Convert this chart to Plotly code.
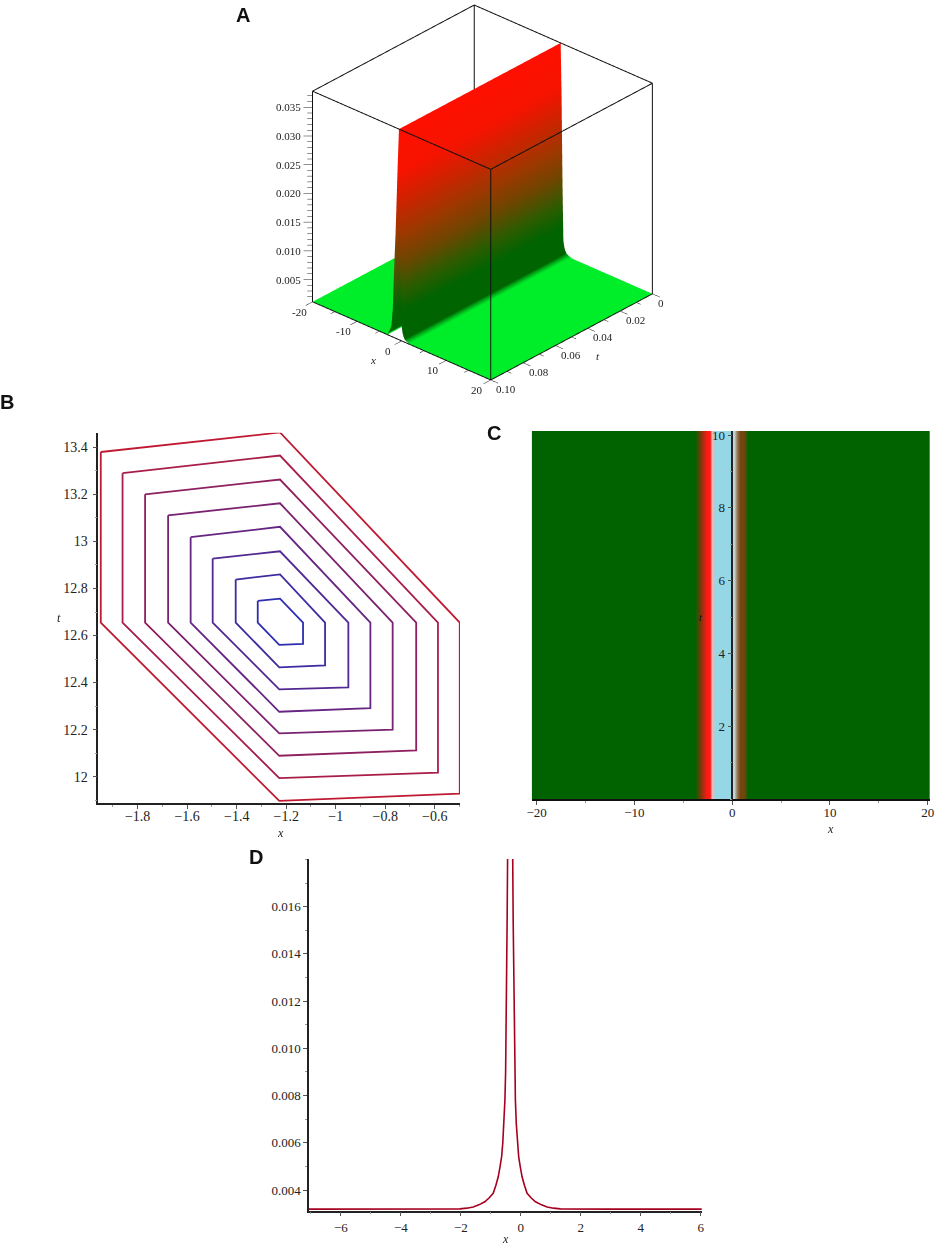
import plotly.graph_objects as go

W, H = 941, 1245
SERIF = "Liberation Serif"
INK = "#222222"

# Panel A: ridge cross-section, the same at every t
a_x = [-20, -5, -3.2, -3.0, -2.6, -2.3, -2.0, -1.6, -1.36, -0.9, -0.6, -0.4, -0.2, 0, 0.2, 0.4, 0.7, 1.2, 1.6, 2.0, 5, 20]
a_height = [0, 0, 0, 0.012, 0.03, 0.05, 0.13, 0.375, 0.5, 0.82, 1.0, 0.75, 0.35, 0.07, 0.04, 0.025, 0.012, 0.006, 0.003, 0, 0, 0]
a_t = [0, 0.05, 0.1]
a_z_min = 0.00112
a_z_max = 0.0378
a_z_major = [0.005, 0.010, 0.015, 0.020, 0.025, 0.030, 0.035]
a_z_minor = [0.002, 0.003, 0.004, 0.006, 0.007, 0.008, 0.009, 0.011, 0.012, 0.013, 0.014, 0.016, 0.017, 0.018, 0.019,
             0.021, 0.022, 0.023, 0.024, 0.026, 0.027, 0.028, 0.029, 0.031, 0.032, 0.033, 0.034, 0.036, 0.037]
a_x_major = [-20, -10, 0, 10, 20]
a_x_minor = [-15, -5, 5, 15]
a_t_major = [0, 0.02, 0.04, 0.06, 0.08, 0.10]
a_t_minor = [0.01, 0.03, 0.05, 0.07, 0.09]
a_colorscale = [
    [0, "rgb(0,238,42)"], [0.003, "rgb(0,190,30)"], [0.012, "rgb(0,100,0)"], [0.13, "rgb(0,100,0)"],
    [0.24, "rgb(45,92,0)"], [0.37, "rgb(110,70,0)"], [0.51, "rgb(160,55,0)"], [0.65, "rgb(205,35,0)"],
    [0.79, "rgb(245,20,0)"], [1, "rgb(255,15,0)"],
]

# Panel B: eight closed contours, outermost first
b_x = [
    [-1.949, -1.225, -0.499, -0.499, -1.228, -1.949, -1.949],
    [-1.861, -1.225, -0.587, -0.587, -1.228, -1.861, -1.861],
    [-1.770, -1.225, -0.675, -0.675, -1.228, -1.770, -1.770],
    [-1.677, -1.225, -0.770, -0.770, -1.228, -1.677, -1.677],
    [-1.586, -1.225, -0.860, -0.860, -1.228, -1.586, -1.586],
    [-1.497, -1.225, -0.949, -0.949, -1.228, -1.497, -1.497],
    [-1.404, -1.225, -1.043, -1.043, -1.228, -1.404, -1.404],
    [-1.315, -1.225, -1.132, -1.132, -1.228, -1.315, -1.315],
]
b_y = [
    [13.380, 13.463, 12.655, 11.928, 11.897, 12.655, 13.380],
    [13.290, 13.365, 12.655, 12.017, 11.994, 12.655, 13.290],
    [13.200, 13.263, 12.655, 12.112, 12.089, 12.655, 13.200],
    [13.111, 13.162, 12.655, 12.200, 12.184, 12.655, 13.111],
    [13.018, 13.062, 12.655, 12.291, 12.276, 12.655, 13.018],
    [12.927, 12.958, 12.655, 12.380, 12.371, 12.655, 12.927],
    [12.838, 12.860, 12.655, 12.473, 12.465, 12.655, 12.838],
    [12.747, 12.757, 12.655, 12.564, 12.560, 12.655, 12.747],
]
b_colors = ["#C01A32", "#A81E48", "#8F2060", "#7A2270", "#662582", "#522892", "#3E2BA0", "#2E2EB0"]
b_xticks = [-1.8, -1.6, -1.4, -1.2, -1, -0.8, -0.6]
b_yticks = [12, 12.2, 12.4, 12.6, 12.8, 13, 13.2, 13.4]

# Panel C: colour bands across x
c_x = [-20.5, -3.82, -3.3, -2.63, -2.29, -2.05, -1.77, -0.24, 0.2, 0.44, 0.72, 1.13, 1.54, 20.23]
c_band = [0, 1, 2, 3, 4, 5, 6, 7, 8, 9, 10, 11, 12, 13]
c_colors = ["#006300", "#006300", "#6E3C0A", "#FF1A14", "#FF1A14", "#FFB4B4", "#96D7E6", "#96D7E6",
            "#C8D8DC", "#96785A", "#73460F", "#73460F", "#006300", "#006300"]
c_t = [0, 10.11]
c_xticks = [-20, -10, 0, 10, 20]
c_yticks = [2, 4, 6, 8, 10]

# Panel D: clipped peak on a flat baseline
d_x = [-7.06, -3, -2.03, -1.8, -1.585, -1.4, -1.2, -1.05, -0.92, -0.83, -0.75, -0.69, -0.64, -0.6, -0.56, -0.53,
       -0.506, -0.485, -0.47, -0.455, -0.44,
       -0.27, -0.255, -0.24, -0.225, -0.205, -0.18, -0.15, -0.11, -0.07, -0.02, 0.04, 0.12, 0.21, 0.34, 0.49,
       0.69, 0.875, 1.09, 1.32, 3, 6.09]
d_y = [0.00319, 0.00319, 0.00320, 0.00323, 0.00328, 0.00337, 0.0035, 0.00367, 0.00386, 0.0042, 0.00457, 0.0050,
       0.0054, 0.0060, 0.0068, 0.0078, 0.0090, 0.0110, 0.0132, 0.0155, 0.0181,
       0.0181, 0.0155, 0.0132, 0.0110, 0.0090, 0.0078, 0.0068, 0.0060, 0.0054, 0.0050, 0.00457, 0.0042, 0.00386,
       0.00367, 0.0035, 0.00337, 0.00328, 0.00323, 0.00320, 0.00319, 0.00319]
d_xticks = [-6, -4, -2, 0, 2, 4, 6]
d_yticks = [0.004, 0.006, 0.008, 0.010, 0.012, 0.014, 0.016]


def px_x(a, b):
    return [a / W, b / W]


def px_y(top, bottom):
    return [1 - bottom / H, 1 - top / H]


def segments(pairs):
    xs, ys, zs = [], [], []
    for p, q in pairs:
        xs += [p[0], q[0], None]
        ys += [p[1], q[1], None]
        zs += [p[2], q[2], None]
    return xs, ys, zs


fig = go.Figure()

# ---- panel A (scene x is t, scene y is x)
a_z = [[a_z_min + (a_z_max - a_z_min) * h] * len(a_t) for h in a_height]
a_c = [[h] * len(a_t) for h in a_height]
fig.add_trace(go.Surface(
    x=a_t, y=a_x, z=a_z, surfacecolor=a_c, cmin=0, cmax=1, colorscale=a_colorscale, showscale=False,
    lighting=dict(ambient=1, diffuse=0, specular=0, fresnel=0, roughness=1), hoverinfo="skip",
))

t0, t1, x0, x1, z0, z1 = 0, 0.1, -20, 20, a_z_min, a_z_max
edges = [
    ((t0, x0, z1), (t0, x1, z1)), ((t1, x0, z1), (t1, x1, z1)),
    ((t0, x0, z1), (t1, x0, z1)), ((t0, x1, z1), (t1, x1, z1)),
    ((t0, x0, z0), (t0, x0, z1)), ((t1, x0, z0), (t1, x0, z1)),
    ((t0, x1, z0), (t0, x1, z1)), ((t1, x1, z0), (t1, x1, z1)),
    ((t1, x0, z0), (t1, x1, z0)), ((t0, x1, z0), (t1, x1, z0)),
]
ticks = []
for v in a_x_major:
    ticks.append(((t1, v, z0), (t1 + 0.0043, v, z0)))
for v in a_x_minor:
    ticks.append(((t1, v, z0), (t1 + 0.0026, v, z0)))
for v in a_t_major:
    ticks.append(((v, x1, z0), (v, x1 + 1.66, z0)))
for v in a_t_minor:
    ticks.append(((v, x1, z0), (v, x1 + 1.0, z0)))
for v in a_z_major:
    ticks.append(((t1, x0, v), (t1 + 0.00253, x0 - 1.10, v)))
for v in a_z_minor:
    ticks.append(((t1, x0, v), (t1 + 0.00150, x0 - 0.65, v)))

ex, ey, ez = segments(edges)
fig.add_trace(go.Scatter3d(x=ex, y=ey, z=ez, mode="lines", line=dict(color="#111111", width=2),
                           showlegend=False, hoverinfo="skip"))
kx, ky, kz = segments(ticks)
fig.add_trace(go.Scatter3d(x=kx, y=ky, z=kz, mode="lines", line=dict(color=INK, width=1),
                           showlegend=False, hoverinfo="skip"))

font_a = dict(family=SERIF, size=11, color=INK)
scene_notes = []
for v in a_z_major:
    scene_notes.append(dict(x=t1, y=x0, z=v, text="%.3f" % v, showarrow=False, xanchor="right",
                            xshift=-9, font=font_a))
for v in a_x_major:
    scene_notes.append(dict(x=t1, y=v, z=z0, text=str(v), showarrow=False, xshift=-13, yshift=-10, font=font_a))
for v in a_t_major:
    label = "0" if v == 0 else "%.2f" % v
    scene_notes.append(dict(x=v, y=x1, z=z0, text=label, showarrow=False, xanchor="left",
                            xshift=4, yshift=-9, font=font_a))
scene_notes.append(dict(x=t1, y=-3, z=z0, text="<i>x</i>", showarrow=False, xshift=-15, yshift=-25, font=font_a))
scene_notes.append(dict(x=0.05, y=x1, z=z0, text="<i>t</i>", showarrow=False, xshift=27, yshift=-19, font=font_a))

# ---- panel B
for xs, ys, col in zip(b_x, b_y, b_colors):
    fig.add_trace(go.Scatter(x=xs, y=ys, mode="lines", line=dict(color=col, width=1.8), cliponaxis=False,
                             xaxis="x", yaxis="y", showlegend=False, hoverinfo="skip"))

# ---- panel C
fig.add_trace(go.Heatmap(
    x=c_x, y=c_t, z=[c_band, c_band], zsmooth="best", zmin=0, zmax=13, showscale=False,
    colorscale=[[i / 13, c] for i, c in enumerate(c_colors)],
    xaxis="x2", yaxis="y2", hoverinfo="skip",
))

# ---- panel D
fig.add_trace(go.Scatter(x=d_x, y=d_y, mode="lines", line=dict(color="#A5001E", width=1.6),
                         xaxis="x3", yaxis="y3", showlegend=False, hoverinfo="skip", cliponaxis=False))

letter = dict(family="Liberation Sans", size=20, color="#111111")
axis_name = dict(family=SERIF, size=12, color=INK)


def note(text, x, y, font):
    return dict(x=x / W, y=1 - y / H, xref="paper", yref="paper", text=text, showarrow=False,
                xanchor="center", yanchor="middle", font=font)


annotations = [
    note("<b>A</b>", 243, 15, letter),
    note("<b>B</b>", 7, 402, letter),
    note("<b>C</b>", 494, 433, letter),
    note("<b>D</b>", 256, 857, letter),
    note("<i>x</i>", 280, 833, axis_name),
    note("<i>t</i>", 59, 618, axis_name),
    note("<i>x</i>", 830, 829, axis_name),
    note("<i>x</i>", 505.7, 1239, axis_name),
    dict(x=-3.2, y=5, xref="x2", yref="y2", text="<i>t</i>", showarrow=False,
         font=dict(family=SERIF, size=11, color="#111111")),
]


def axis(domain, rng, tickvals, minor=None, size=14, **kw):
    out = dict(domain=domain, range=rng, tickmode="array", tickvals=tickvals, ticks="outside", ticklen=4,
               tickcolor="#555555", tickwidth=1, showline=True, linecolor=INK, linewidth=1.5, showgrid=False,
               zeroline=False, automargin=False, tickfont=dict(family=SERIF, size=size, color=INK))
    if minor is not None:
        out["minor"] = dict(dtick=minor, ticks="outside", ticklen=2, tickcolor="#999999", showgrid=False)
    out.update(kw)
    return out


fig.update_layout(
    template="none",
    width=W, height=H, autosize=False, margin=dict(l=0, r=0, t=0, b=0),
    paper_bgcolor="white", plot_bgcolor="white", showlegend=False,
    annotations=annotations,
    scene=dict(
        domain=dict(x=px_x(289.5, 674.5), y=px_y(0, 385)),
        xaxis=dict(visible=False, range=[-0.01, 0.11]),
        yaxis=dict(visible=False, range=[-24, 24]),
        zaxis=dict(visible=False, range=[z0 - 0.00367, z1 + 0.00367]),
        aspectmode="manual", aspectratio=dict(x=1.5, y=1.5, z=1.5),
        camera=dict(eye=dict(x=1.62, y=1.47, z=1.208), up=dict(x=0, y=0, z=1), center=dict(x=0, y=0, z=0),
                    projection=dict(type="orthographic")),
        bgcolor="white", annotations=scene_notes,
    ),
    xaxis=axis(px_x(98.3, 460), [-1.959, -0.498], b_xticks, minor=0.1, anchor="y", ticklabelstandoff=-5),
    yaxis=axis(px_y(432.7, 803.3), [11.887, 13.462], b_yticks, minor=0.1, anchor="x", ticklabelstandoff=2),
    xaxis2=axis(px_x(531.7, 930), [-20.5, 20.23], c_xticks, minor=5, size=13, anchor="y2",
                linewidth=2, linecolor="#111111", ticklabelstandoff=-4),
    yaxis2=axis(px_y(431, 799), [0, 10.11], c_yticks, minor=1, size=13, anchor="free",
                position=732.3 / W, linecolor="#222222", layer="above traces"),
    xaxis3=axis(px_x(309, 701.7), [-7.06, 6.03], d_xticks, minor=1, size=13, anchor="y3"),
    yaxis3=axis(px_y(859, 1210.7), [0.003123, 0.01802], d_yticks, minor=0.001, size=13, anchor="x3",
                tickformat=".3f"),
)

fig.write_html("out.html", post_script="document.body.style.margin='0';",
               config={"displayModeBar": False})
